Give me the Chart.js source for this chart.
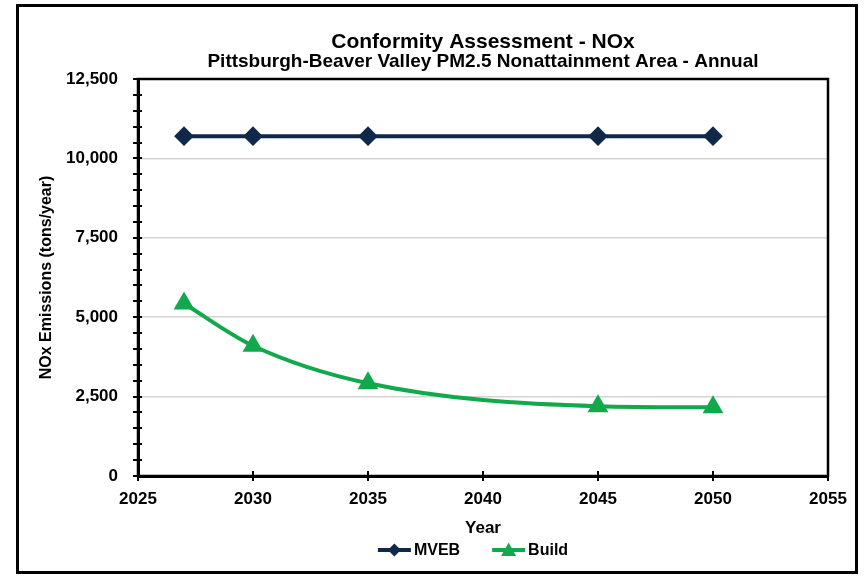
<!DOCTYPE html>
<html>
<head>
<meta charset="utf-8">
<script src="https://cdn.jsdelivr.net/npm/chart.js@4/dist/chart.umd.min.js"></script>
<style>
  html, body { margin: 0; padding: 0; background: #fff; overflow: hidden; }
  #frame { position: absolute; left: 16px; top: 4px; width: 842px; height: 570px; border: 3px solid #000; box-sizing: border-box; }
  #nox-chart { position: absolute; left: 0; top: 0; }
</style>
</head>
<body>
<div id="frame"></div>
<canvas id="nox-chart" width="864" height="577"></canvas>
<script>
var years = [2027, 2030, 2035, 2045, 2050];
var mvebData = [10700, 10700, 10700, 10700, 10700];
var buildData = [5430, 4100, 2920, 2200, 2165];
var yMin = 0, yMax = 12500, yMajor = 2500, yMinor = 500;
var xMin = 2025, xMax = 2055, xStep = 5;

var navy = '#10284a';
var green = '#12a94c';
var font = "'Liberation Sans', Arial, sans-serif";

function drawMarker(ctx, shape, x, y, color) {
    ctx.fillStyle = color;
    ctx.beginPath();
    if (shape == 'rectRot') {
        ctx.moveTo(x, y - 6.5); ctx.lineTo(x + 6.5, y); ctx.lineTo(x, y + 6.5); ctx.lineTo(x - 6.5, y);
    } else {
        ctx.moveTo(x, y - 7.5); ctx.lineTo(x + 7.5, y + 6); ctx.lineTo(x - 7.5, y + 6);
    }
    ctx.closePath();
    ctx.fill();
}

// frame of the plot, crossing tick marks and the bottom legend
var chartExtras = {
    id: 'chartExtras',
    beforeDatasetsDraw: function(chart) {
        var a = chart.chartArea, ctx = chart.ctx;
        ctx.save();
        ctx.strokeStyle = '#000';
        ctx.lineWidth = 2.5;
        ctx.strokeRect(a.left, a.top, a.right - a.left, a.bottom - a.top);
        ctx.restore();
    },
    afterDraw: function(chart) {
        var ctx = chart.ctx, a = chart.chartArea;
        var ys = chart.scales.y, xs = chart.scales.x;
        ctx.save();
        ctx.strokeStyle = '#000';
        ctx.lineWidth = 2;
        ctx.beginPath();
        for (var v = yMin; v <= yMax; v += yMinor) {
            var py = Math.round(ys.getPixelForValue(v));
            ctx.moveTo(a.left - 5, py); ctx.lineTo(a.left + 4, py);
        }
        for (var t = xMin; t <= xMax; t += xStep) {
            var px = Math.round(xs.getPixelForValue(t));
            ctx.moveTo(px, a.bottom - 5); ctx.lineTo(px, a.bottom + 5);
        }
        ctx.stroke();

        // legend
        var lineLen = 33, textGap = 3, itemGap = 32, ly = 550;
        ctx.font = 'bold 16px ' + font;
        var sets = chart.data.datasets, total = 0;
        sets.forEach(function(ds, i) {
            total += lineLen + textGap + ctx.measureText(ds.label).width;
            if (i > 0) total += itemGap;
        });
        var lx = (a.left + a.right) / 2 - 10 - total / 2;
        ctx.textBaseline = 'middle';
        ctx.textAlign = 'left';
        sets.forEach(function(ds) {
            ctx.strokeStyle = ds.borderColor;
            ctx.lineWidth = 4;
            ctx.beginPath(); ctx.moveTo(lx, ly); ctx.lineTo(lx + lineLen, ly); ctx.stroke();
            drawMarker(ctx, ds.pointStyle, lx + lineLen / 2, ly, ds.borderColor);
            lx += lineLen + textGap;
            ctx.fillStyle = '#000';
            ctx.fillText(ds.label, lx, ly + 1);
            lx += ctx.measureText(ds.label).width + itemGap;
        });
        ctx.restore();
    }
};

var ctx = document.getElementById('nox-chart').getContext('2d');
var noxChart = new Chart(ctx, {
    type: 'line',
    data: {
        datasets: [{
            label: 'MVEB',
            data: years.map(function(y, i) { return {x: y, y: mvebData[i]}; }),
            borderColor: navy,
            backgroundColor: navy,
            borderWidth: 4,
            pointStyle: 'rectRot',
            pointRadius: 7,
            pointHoverRadius: 7,
            tension: 0
        },
        {
            label: 'Build',
            data: years.map(function(y, i) { return {x: y, y: buildData[i]}; }),
            borderColor: green,
            backgroundColor: green,
            borderWidth: 4,
            pointStyle: 'triangle',
            pointRadius: 8,
            pointHoverRadius: 8,
            cubicInterpolationMode: 'monotone'
        }]
    },
    options: {
        responsive: false,
        animation: false,
        layout: { padding: { left: 25, right: 36, top: 10, bottom: 38 } },
        plugins: {
            title: {
                display: true,
                text: 'Conformity Assessment - NOx',
                fullSize: false,
                color: '#000',
                font: { family: font, size: 21, weight: 'bold', lineHeight: 0.9 },
                padding: { top: 23, bottom: 0 }
            },
            subtitle: {
                display: true,
                text: 'Pittsburgh-Beaver Valley PM2.5 Nonattainment Area - Annual',
                fullSize: false,
                color: '#000',
                font: { family: font, size: 19, weight: 'bold', lineHeight: 0.9 },
                padding: { top: 1, bottom: 9 }
            },
            legend: { display: false },
            tooltip: { enabled: false }
        },
        scales: {
            x: {
                type: 'linear',
                min: xMin,
                max: xMax,
                afterFit: function(scale) { scale.height = 63; },
                ticks: {
                    stepSize: xStep,
                    color: '#000',
                    padding: 13,
                    font: { family: font, size: 17, weight: 'bold' },
                    callback: function(v) { return String(v); }
                },
                grid: { display: false, drawTicks: false },
                border: { display: true, color: '#000', width: 3 },
                title: {
                    display: true,
                    text: 'Year',
                    color: '#000',
                    font: { family: font, size: 17, weight: 'bold' },
                    padding: { top: 7, bottom: 0 }
                }
            },
            y: {
                min: yMin,
                max: yMax,
                afterFit: function(scale) { scale.width = 113; },
                ticks: {
                    stepSize: yMinor,
                    color: '#000',
                    padding: 20,
                    autoSkip: false,
                    font: { family: font, size: 17, weight: 'bold' },
                    callback: function(v) {
                        return v % yMajor === 0 ? v.toLocaleString('en-US') : '';
                    }
                },
                grid: {
                    drawTicks: false,
                    color: function(c) {
                        return (c.tick && c.tick.value % yMajor === 0) ? '#d4d4d4' : 'rgba(0,0,0,0)';
                    },
                    lineWidth: 1.5
                },
                border: { display: true, color: '#000', width: 3 },
                title: {
                    display: true,
                    text: 'NOx Emissions (tons/year)',
                    color: '#000',
                    font: { family: font, size: 16, weight: 'bold' },
                    padding: { top: 12, bottom: 4 }
                }
            }
        }
    },
    plugins: [chartExtras]
});
</script>
</body>
</html>
